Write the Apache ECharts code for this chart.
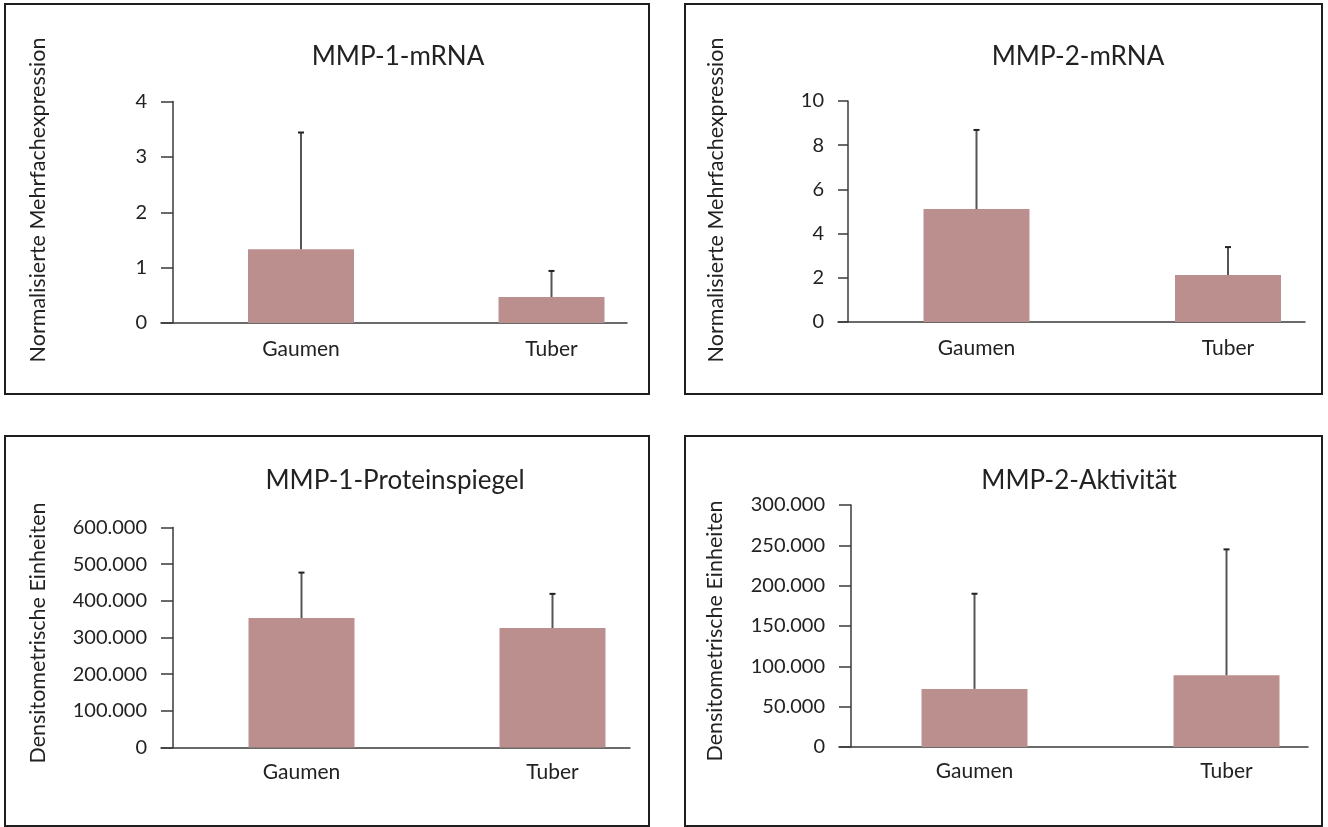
<!DOCTYPE html>
<html><head><meta charset="utf-8">
<script src="https://cdn.jsdelivr.net/npm/echarts@6/dist/echarts.min.js"></script>
<style>html,body{margin:0;padding:0;background:#fff}#c{width:1328px;height:827px}</style>
</head><body><div id="c"></div>
<script>
// ---- data ----
const categories = ['Gaumen', 'Tuber'];
const titles = ['MMP-1-mRNA', 'MMP-2-mRNA', 'MMP-1-Proteinspiegel', 'MMP-2-Aktivität'];
const yNames = ['Normalisierte Mehrfachexpression', 'Normalisierte Mehrfachexpression', 'Densitometrische Einheiten', 'Densitometrische Einheiten'];
const mmp1mRNA = [1.33, 0.47];
const mmp1mRNAUpper = [3.44, 0.94];
const mmp2mRNA = [5.11, 2.13];
const mmp2mRNAUpper = [8.69, 3.39];
const mmp1Protein = [353000, 326000];
const mmp1ProteinUpper = [477000, 419000];
const mmp2Activity = [72000, 89000];
const mmp2ActivityUpper = [190000, 245000];
const yMax = [4, 10, 600000, 300000];
const yInterval = [1, 2, 100000, 50000];

const values = [mmp1mRNA, mmp2mRNA, mmp1Protein, mmp2Activity];
const uppers = [mmp1mRNAUpper, mmp2mRNAUpper, mmp1ProteinUpper, mmp2ActivityUpper];

// ---- layout (pixels) ----
const W = 1328, H = 827;
const L = [
  {frame:[5,4,644,390], axisX:173, tick:12, xEnd:627, top:101.5, zero:323, c0:301, step:250.5, titleX:398, titleY:57, nameX:38, nameY:200},
  {frame:[685,4,637,390], axisX:848, tick:10, xEnd:1305, top:101, zero:322, c0:976.5, step:251.5, titleX:1078, titleY:57, nameX:716, nameY:200},
  {frame:[5,436,644,390], axisX:173, tick:12, xEnd:630, top:527.5, zero:747.5, c0:301.5, step:251, titleX:395, titleY:481, nameX:38, nameY:633},
  {frame:[685,436,637,390], axisX:851, tick:12, xEnd:1308, top:505, zero:747, c0:974.5, step:252, titleX:1079, titleY:481, nameX:715, nameY:631}
];
const FONT = 'Lato';
const TXT = '#222';
const AX = '#3a3a3a';
const BAR = '#bc8f8f';

function fmt(v) { return String(v).replace(/\B(?=(\d{3})+(?!\d))/g, '.'); }

const grid = [], xAxis = [], yAxis = [], series = [], title = [], graphic = [];
L.forEach((p, i) => {
  // visible axes grid
  grid.push({left: p.axisX - p.tick, right: W - p.xEnd, top: p.top, bottom: H - p.zero});
  // bar grid: category 0 at left edge, category 1 at right edge
  grid.push({left: p.c0, width: p.step, top: p.top, bottom: H - p.zero});
  const ga = 2 * i, gb = 2 * i + 1;
  xAxis.push({gridIndex: ga, type: 'value', min: 0, max: 1, axisLine: {show: true, lineStyle: {color: AX, width: 1.5}},
    axisTick: {show: false}, axisLabel: {show: false}, splitLine: {show: false}});
  xAxis.push({gridIndex: gb, type: 'category', data: categories, boundaryGap: false, axisLine: {show: false}, axisTick: {show: false},
    axisLabel: {show: true, interval: 0, margin: i < 2 ? 16 : 14, fontFamily: FONT, fontSize: 21, color: TXT}, splitLine: {show: false}});
  yAxis.push({gridIndex: ga, type: 'value', min: 0, max: yMax[i], interval: yInterval[i], offset: -p.tick,
    axisLine: {show: true, lineStyle: {color: AX, width: 1.5}},
    axisTick: {show: true, length: p.tick, lineStyle: {color: AX, width: 1.5}},
    axisLabel: {show: true, margin: p.tick + 14, fontFamily: FONT, fontSize: 20, color: TXT, formatter: fmt},
    splitLine: {show: false}});
  yAxis.push({gridIndex: gb, type: 'value', min: 0, max: yMax[i], show: false, splitLine: {show: false}});
  series.push({type: 'bar', xAxisIndex: gb, yAxisIndex: gb, data: values[i], barWidth: 106, itemStyle: {color: BAR}, z: 1});
  series.push({type: 'custom', xAxisIndex: gb, yAxisIndex: gb, z: 3, clip: false,
    data: categories.map((c, j) => [j, values[i][j], uppers[i][j]]),
    renderItem: function (params, api) {
      const a = api.coord([api.value(0), api.value(1)]);
      const b = api.coord([api.value(0), api.value(2)]);
      return {type: 'group', children: [
        {type: 'line', shape: {x1: a[0], y1: a[1], x2: b[0], y2: b[1]}, style: {stroke: '#555', lineWidth: 2}},
        {type: 'line', shape: {x1: b[0] - 3, y1: b[1], x2: b[0] + 3, y2: b[1]}, style: {stroke: '#222', lineWidth: 2}}
      ]};
    }});
  title.push({text: titles[i], left: p.titleX, top: p.titleY, padding: 0, textAlign: 'center', textVerticalAlign: 'middle',
    textStyle: {fontFamily: FONT, fontSize: 26, fontWeight: 'normal', color: TXT}});
  graphic.push({type: 'rect', shape: {x: p.frame[0], y: p.frame[1], width: p.frame[2], height: p.frame[3]},
    style: {fill: 'none', stroke: '#1e1e1e', lineWidth: 2}, z: 0});
  graphic.push({type: 'text', x: p.nameX, y: p.nameY, rotation: Math.PI / 2,
    style: {text: yNames[i], fontFamily: FONT, fontSize: 21.5, fill: TXT, align: 'center', verticalAlign: 'middle'}});
});

const chart = echarts.init(document.getElementById('c'), null, {renderer: 'canvas'});
chart.setOption({animation: false, backgroundColor: '#fff', title, grid, xAxis, yAxis, series, graphic});
</script></body></html>
